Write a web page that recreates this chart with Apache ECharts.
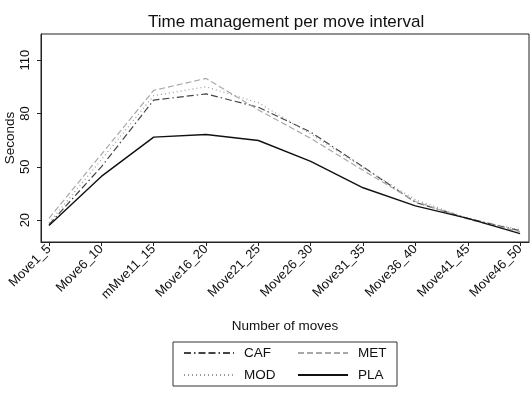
<!DOCTYPE html>
<html>
<head>
<meta charset="utf-8">
<script src="https://cdn.jsdelivr.net/npm/echarts@6/dist/echarts.min.js"></script>
<style>
  html, body { margin: 0; padding: 0; background: #fff; }
  #chart { width: 532px; height: 401px; }
</style>
</head>
<body>
<div id="chart"></div>
<script>
'use strict';

var categories = ['Move1_5', 'Move6_10', 'mMve11_15', 'Move16_20', 'Move21_25',
    'Move26_30', 'Move31_35', 'Move36_40', 'Move41_45', 'Move46_50'];
var caf = [17.5, 50, 87.5, 91, 83.5, 69.5, 50, 30, 21, 14];
var met = [21, 57, 93, 99.7, 82, 66, 48, 30.5, 20.5, 13.5];
var mod = [18.5, 54, 90, 95, 86, 68.5, 49.5, 31.5, 21, 14.5];
var pla = [17, 44.6, 66.7, 68.2, 64.8, 53, 38.2, 28, 21, 12.4];
var yTicks = [20, 50, 80, 110];

var FONT = '"Liberation Sans", Arial, sans-serif';
var idx = categories.map(function(c, i) { return i; });

var pairs = function(vals) {
    return vals.map(function(v, i) { return [i, v]; });
};

var line = function(name, vals, color, dash, width) {
    return {
        name: name,
        type: 'line',
        data: pairs(vals),
        symbol: 'none',
        silent: true,
        lineStyle: { color: color, type: dash, width: width },
        itemStyle: { color: color }
    };
};

var myChart = echarts.init(document.getElementById('chart'), null, { renderer: 'canvas' });
var option = {
    backgroundColor: '#fff',
    animation: false,
    title: {
        text: 'Time management per move interval',
        left: 143,
        top: 9,
        textStyle: { fontFamily: FONT, fontSize: 17, fontWeight: 'normal', color: '#111' }
    },
    grid: {
        left: 41, right: 3, top: 34, bottom: 159,
        outerBoundsMode: 'none',
        containLabel: false,
        show: true, borderColor: '#222', borderWidth: 1
    },
    legend: {
        left: 173,
        top: 342,
        width: 300,
        orient: 'horizontal',
        selectedMode: false,
        itemWidth: 50,
        itemHeight: 2,
        itemGap: 6,
        padding: [3, 0, 3, 10],
        borderColor: '#333',
        borderWidth: 1,
        itemStyle: { opacity: 0 },
        textStyle: { fontFamily: FONT, fontSize: 13.5, color: '#111', lineHeight: 16, padding: [0, 0, 0, 5] },
        data: [
            { name: 'CAF', textStyle: { width: 47 } },
            { name: 'MET', textStyle: { width: 39 } },
            { name: 'MOD', textStyle: { width: 47 } },
            { name: 'PLA', textStyle: { width: 39 } }
        ]
    },
    xAxis: {
        type: 'value',
        min: -0.153,
        max: 9.17,
        name: 'Number of moves',
        nameLocation: 'middle',
        nameGap: 77,
        nameMoveOverlap: false,
        nameTextStyle: { fontFamily: FONT, fontSize: 13.5, color: '#111' },
        axisLine: { show: true, onZero: false, lineStyle: { color: '#222' } },
        axisTick: { show: true, length: 4, customValues: idx, lineStyle: { color: '#222' } },
        axisLabel: {
            customValues: idx,
            rotate: 45,
            margin: 5,
            fontFamily: FONT,
            fontSize: 13,
            color: '#111',
            formatter: function(v) { return categories[Math.round(v)]; }
        },
        splitLine: { show: false }
    },
    yAxis: {
        type: 'value',
        min: 7.7,
        max: 124.7,
        name: 'Seconds',
        nameLocation: 'middle',
        nameGap: 24,
        nameMoveOverlap: false,
        nameTextStyle: { fontFamily: FONT, fontSize: 13.5, color: '#111' },
        axisLine: { show: true, onZero: false, lineStyle: { color: '#222' } },
        axisTick: { show: true, length: 4, customValues: yTicks, lineStyle: { color: '#222' } },
        axisLabel: {
            customValues: yTicks,
            rotate: 90,
            margin: 9,
            fontFamily: FONT,
            fontSize: 13,
            color: '#111'
        },
        splitLine: { show: false }
    },
    series: [
        line('CAF', caf, '#444', [7, 3, 1.5, 3, 7, 3], 1.2),
        line('MET', met, '#a8a8a8', [6, 3], 1.2),
        line('MOD', mod, '#9a9a9a', [1, 3], 1.2),
        line('PLA', pla, '#111', 'solid', 1.4)
    ]
};
myChart.setOption(option);
</script>
</body>
</html>
